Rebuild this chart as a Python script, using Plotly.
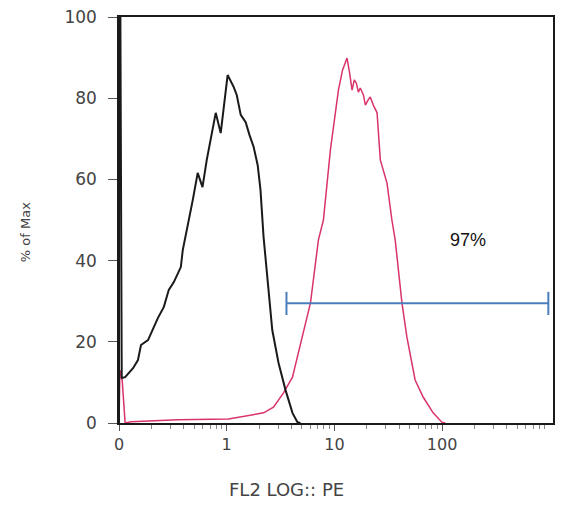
import plotly.graph_objects as go
import numpy as np

# Control (unstained) histogram: fluorescence intensity vs % of max
control_x = [0.1, 0.1, 0.103, 0.106, 0.114, 0.121, 0.135, 0.150, 0.160, 0.186, 0.211, 0.230, 0.261,
             0.290, 0.323, 0.375, 0.391, 0.417, 0.445, 0.484, 0.538, 0.596, 0.653, 0.711,
             0.791, 0.880, 0.938, 1.02, 1.16, 1.24, 1.35, 1.50, 1.63, 1.78, 1.94, 2.06,
             2.20, 2.40, 2.65, 3.03, 3.52, 4.08, 4.54, 4.84]
control_y = [0, 100, 100, 11.1, 11.3, 12.0, 13.5, 15.5, 19.2, 20.4, 23.6, 25.9, 28.6,
             32.8, 34.7, 38.4, 42.6, 46.3, 49.3, 54.9, 61.6, 58.1, 64.8, 70.4,
             76.4, 71.4, 78.3, 85.7, 82.8, 80.8, 75.9, 74.1, 70.9, 68.0, 63.5, 57.4,
             45.8, 35.2, 22.9, 14.8, 8.1, 2.5, 0.2, 0]

# Stained (PE) histogram
pe_x = [0.1, 0.102, 0.107, 0.114, 0.129, 0.352, 1.04, 1.67, 2.20, 2.72, 3.37, 4.08,
        5.02, 6.00, 7.11, 7.91, 9.18, 10.2, 10.9, 11.9, 13.1, 13.8, 14.6, 15.3, 16.0,
        16.7, 17.4, 18.6, 19.4, 20.6, 21.5, 23.0, 24.9, 26.7, 30.8, 34.2, 36.7, 42.4,
        47.1, 56.2, 66.7, 82.6, 99.4, 107]
pe_y = [0, 13, 10.6, 0, 0.3, 0.8, 1.0, 2.0, 2.5, 3.9, 7.4, 11.3,
        21.2, 29.6, 45.1, 50.0, 67.2, 77.1, 82.0, 86.9, 89.9, 86.5, 82.0, 84.5, 83.7,
        81.5, 82.5, 80.8, 78.3, 79.6, 80.3, 78.3, 76.4, 64.8, 59.1, 50.0, 45.1, 29.6,
        21.2, 10.6, 6.4, 2.5, 0.2, 0]

# Positive gate
gate_x = [3.59, 970]
gate_y = 29.5
gate_cap = [26.6, 32.3]
gate_label = "97%"
gate_label_pos = [174, 45]

tick_vals = [0.1, 1, 10, 100]
tick_text = ["0", "1", "10", "100"]
minor_vals = [m * d for d in [0.1, 1, 10, 100] for m in range(2, 10)]
y_ticks = [0, 20, 40, 60, 80, 100]

BLUE = "#4a7ebb"
PINK = "#d9336d"
TXT = "#444"

fig = go.Figure()
fig.add_trace(go.Scatter(x=pe_x, y=pe_y, mode="lines",
                         line=dict(color=PINK, width=1.5), hoverinfo="skip"))
fig.add_trace(go.Scatter(x=control_x, y=control_y, mode="lines",
                         line=dict(color="#1a1a1a", width=2), hoverinfo="skip"))
# gate bar
fig.add_trace(go.Scatter(x=gate_x, y=[gate_y, gate_y], mode="lines",
                         line=dict(color=BLUE, width=2), hoverinfo="skip"))
for gx in gate_x:
    fig.add_trace(go.Scatter(x=[gx, gx], y=gate_cap, mode="lines",
                             line=dict(color=BLUE, width=2), hoverinfo="skip"))

fig.add_annotation(x=np.log10(gate_label_pos[0]), y=gate_label_pos[1], text=gate_label,
                   showarrow=False, font=dict(family="Liberation Sans, Arial", size=18, color="#111"))

# page has an 8px body margin, so the figure is offset by 8px
fig.update_layout(
    width=555, height=500,
    margin=dict(l=111, r=10, t=9, b=85, autoexpand=False),
    plot_bgcolor="white", paper_bgcolor="white",
    showlegend=False,
    font=dict(family="DejaVu Sans", color=TXT),
)
fig.update_xaxes(
    type="log", range=[-1, 3.03],
    tickmode="array", tickvals=tick_vals, ticktext=tick_text,
    ticks="outside", ticklen=6, tickwidth=1, tickcolor="#555",
    tickfont=dict(size=16, color=TXT, family="DejaVu Sans"),
    ticklabeloverflow="allow",
    showline=True, linecolor="#1a1a1a", linewidth=1.5, mirror=True,
    showgrid=False, zeroline=False,
    minor=dict(tickvals=minor_vals, ticks="outside", ticklen=4, tickcolor="#888", showgrid=False),
)
fig.update_yaxes(
    range=[0, 100],
    tickmode="array", tickvals=y_ticks,
    ticks="outside", ticklen=9, tickwidth=1, tickcolor="#555",
    ticklabelstandoff=8, ticklabeloverflow="allow",
    tickfont=dict(size=17, color=TXT, family="DejaVu Sans"),
    showline=True, linecolor="#1a1a1a", linewidth=1.5, mirror=True,
    showgrid=False, zeroline=False,
)
fig.add_annotation(xref="paper", yref="paper", x=-(111 - 17) / 434, y=0.47, text="% of Max",
                   textangle=-90, showarrow=False, xanchor="center", yanchor="middle",
                   font=dict(family="DejaVu Sans", size=13, color=TXT))
fig.add_annotation(xref="paper", yref="paper", x=(286 - 119) / 434, y=-0.165, text="FL2 LOG:: PE",
                   showarrow=False, xanchor="center", yanchor="middle",
                   font=dict(family="DejaVu Sans", size=18, color=TXT))

fig.write_html("out.html")
